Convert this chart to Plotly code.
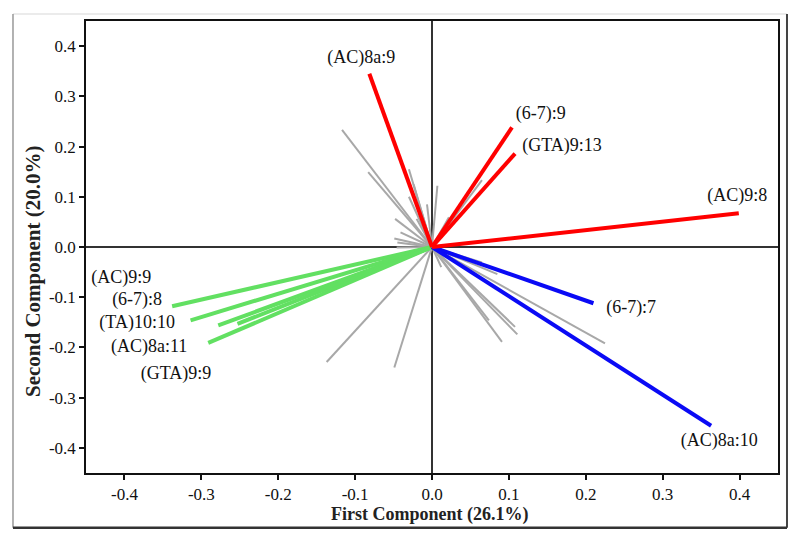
import plotly.graph_objects as go

# Labelled loading vectors (first component, second component)
red_names = ["(AC)8a:9", "(6-7):9", "(GTA)9:13", "(AC)9:8"]
red_x = [-0.0815, 0.104, 0.108, 0.399]
red_y = [0.345, 0.238, 0.186, 0.067]

blue_names = ["(6-7):7", "(AC)8a:10"]
blue_x = [0.210, 0.363]
blue_y = [-0.112, -0.356]

green_names = ["(AC)9:9", "(6-7):8", "(TA)10:10", "(AC)8a:11", "(GTA)9:9"]
green_x = [-0.338, -0.314, -0.278, -0.253, -0.291]
green_y = [-0.118, -0.146, -0.156, -0.153, -0.191]

# Unlabelled loading vectors (gray)
gray_x = [-0.137, -0.049, 0.091, 0.108, 0.111, 0.074, 0.225, 0.085, 0.065,
          -0.117, -0.083, -0.030, -0.024, 0.007, 0.065, 0.022, -0.020, -0.048,
          -0.049, -0.045, -0.041, -0.046, -0.0065, 0.017, 0.030, -0.030, 0.012]
gray_y = [-0.229, -0.240, -0.189, -0.159, -0.174, -0.146, -0.192, -0.054, -0.031,
          0.233, 0.149, 0.155, 0.125, 0.122, 0.133, 0.059, 0.056, 0.056,
          0.017, 0.009, 0.029, -0.001, 0.085, 0.032, 0.050, 0.100, -0.040]

# Label positions for the labelled vectors
red_lab_x = [-0.092, 0.1415, 0.169, 0.397]
red_lab_y = [0.375, 0.264, 0.2006, 0.0997]
blue_lab_x = [0.259, 0.3735]
blue_lab_y = [-0.122, -0.3874]
green_lab_x = [-0.4042, -0.3835, -0.3835, -0.3678, -0.333]
green_lab_y = [-0.0623, -0.1065, -0.1527, -0.201, -0.253]

tick_vals = [-0.4, -0.3, -0.2, -0.1, 0.0, 0.1, 0.2, 0.3, 0.4]
tick_text = ["-0.4", "-0.3", "-0.2", "-0.1", "0.0", "0.1", "0.2", "0.3", "0.4"]

x_title = "First Component (26.1%)"
y_title = "Second Component (20.0%)"

SERIF = "Liberation Serif, serif"

fig = go.Figure()


def add_vectors(xs, ys, color, width):
    lx, ly = [], []
    for a, b in zip(xs, ys):
        lx += [0, a, None]
        ly += [0, b, None]
    fig.add_trace(go.Scatter(x=lx, y=ly, mode="lines",
                             line=dict(color=color, width=width),
                             hoverinfo="skip", showlegend=False))


add_vectors(gray_x, gray_y, "#a8a8a8", 2)
add_vectors(green_x, green_y, "#62e062", 4)
add_vectors(blue_x, blue_y, "#0a0af5", 4)
add_vectors(red_x, red_y, "#ff0000", 4)

for names, lxs, lys in [(red_names, red_lab_x, red_lab_y),
                        (blue_names, blue_lab_x, blue_lab_y),
                        (green_names, green_lab_x, green_lab_y)]:
    fig.add_trace(go.Scatter(x=lxs, y=lys, mode="text", text=names,
                             textfont=dict(family=SERIF, size=18, color="#111"),
                             textposition="middle center",
                             hoverinfo="skip", showlegend=False))

axis_common = dict(
    range=[-0.45, 0.45], tickvals=tick_vals, ticktext=tick_text,
    showgrid=False, zeroline=True, zerolinecolor="#333", zerolinewidth=1.5,
    showline=True, linecolor="#111", linewidth=1.5, mirror=True,
    ticks="outside", ticklen=5, tickwidth=1.5, tickcolor="#111",
    tickfont=dict(family=SERIF, size=17, color="#111"),
)

fig.update_xaxes(**axis_common)
fig.update_yaxes(**axis_common)

# page has an 8px body margin, so the figure is sized 792x534
fig.update_layout(
    width=792, height=534,
    margin=dict(l=78, r=22, t=11, b=69),
    paper_bgcolor="white", plot_bgcolor="white",
    font=dict(family=SERIF),
    shapes=[
        # outer figure frame
        dict(type="line", xref="paper", yref="paper", x0=-0.1055, x1=1.013,
             y0=1.0154, y1=1.0154, line=dict(color="#e4e4e4", width=1.5)),
        dict(type="line", xref="paper", yref="paper", x0=-0.1055, x1=-0.1055,
             y0=-0.1211, y1=1.0154, line=dict(color="#999", width=1.5)),
        dict(type="line", xref="paper", yref="paper", x0=1.013, x1=1.013,
             y0=-0.1211, y1=1.0154, line=dict(color="#444", width=2)),
        dict(type="line", xref="paper", yref="paper", x0=-0.1055, x1=1.013,
             y0=-0.1211, y1=-0.1211, line=dict(color="#333", width=2.5)),
    ],
    annotations=[
        dict(text="<b>" + x_title + "</b>", xref="paper", yref="paper",
             x=0.496, y=-0.0925, showarrow=False, xanchor="center", yanchor="middle",
             font=dict(family=SERIF, size=18, color="#222")),
        dict(text="<b>" + y_title + "</b>", xref="paper", yref="paper",
             x=-0.0765, y=0.4448, showarrow=False, xanchor="center", yanchor="middle",
             textangle=-90, font=dict(family=SERIF, size=21, color="#222")),
    ],
)

fig.write_html("out.html")
